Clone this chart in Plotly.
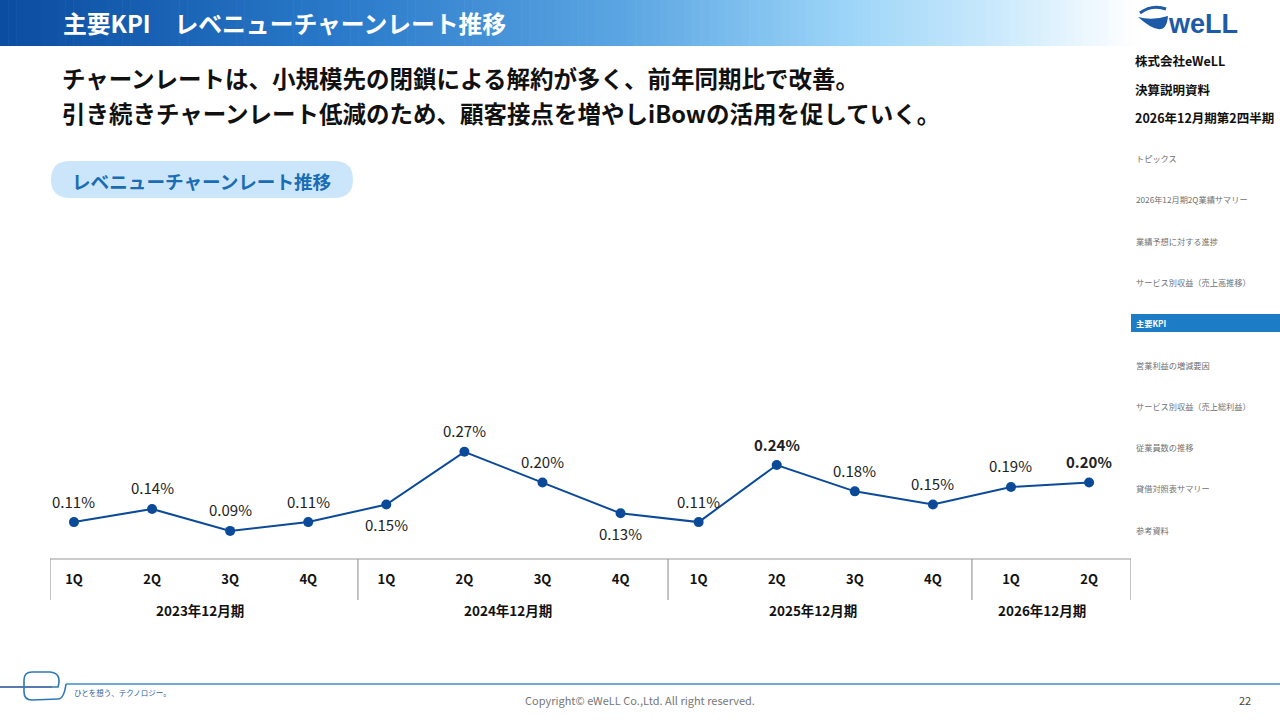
import plotly.graph_objects as go

# ---------------- data ----------------
quarters = ["1Q", "2Q", "3Q", "4Q", "1Q", "2Q", "3Q", "4Q", "1Q", "2Q", "3Q", "4Q", "1Q", "2Q"]
churn_rate = [0.11, 0.14, 0.09, 0.11, 0.15, 0.27, 0.20, 0.13, 0.11, 0.24, 0.18, 0.15, 0.19, 0.20]
label_below = [False, False, False, False, True, False, False, True, False, False, False, False, False, False]
label_bold = [False, False, False, False, False, False, False, False, False, True, False, False, False, True]
fiscal_years = ["2023年12月期", "2024年12月期", "2025年12月期", "2026年12月期"]
fiscal_year_centers = [1.61, 5.56, 9.47, 12.40]
fiscal_dividers = [-0.307, 3.637, 7.608, 11.50, 13.537]

title_text = "主要KPI　レベニューチャーンレート推移"
lead_lines = [
    "チャーンレートは、小規模先の閉鎖による解約が多く、前年同期比で改善。",
    "引き続きチャーンレート低減のため、顧客接点を増やしiBowの活用を促していく。",
]
pill_text = "レベニューチャーンレート推移"
side_header = ["株式会社eWeLL", "決算説明資料", "2026年12月期第2四半期"]
side_menu = ["トピックス", "2026年12月期2Q業績サマリー", "業績予想に対する進捗", "サービス別収益（売上高推移）",
             "主要KPI", "営業利益の増減要因", "サービス別収益（売上総利益）", "従業員数の推移",
             "貸借対照表サマリー", "参考資料"]
active_menu = "主要KPI"

W, H = 1280, 720
FONT = "Noto Sans CJK JP"
LINE_BLUE = "#0b4a99"


def px(x):
    return x / W


def py(y):
    return 1 - y / H


def path(cmds):
    out = []
    for c in cmds:
        s = c[0]
        for (x, y) in c[1:]:
            s += " %.5f %.5f" % (px(x), py(y))
        out.append(s)
    return " ".join(out)


fig = go.Figure()

fig.add_trace(go.Scatter(
    x=list(range(len(churn_rate))), y=churn_rate,
    mode="lines+markers",
    line=dict(color=LINE_BLUE, width=2),
    marker=dict(color=LINE_BLUE, size=10),
    hoverinfo="skip", showlegend=False,
))

shapes = []
annotations = []

# ---- header gradient banner ----
stops = [(0.0, (11, 76, 160)), (0.3, (42, 122, 202)), (0.55, (92, 166, 226)),
         (0.74, (155, 212, 248)), (0.88, (205, 234, 252)), (1.0, (255, 255, 255))]


def grad(t):
    for (t0, c0), (t1, c1) in zip(stops[:-1], stops[1:]):
        if t0 <= t <= t1:
            f = (t - t0) / (t1 - t0)
            return "rgb(%d,%d,%d)" % tuple(round(a + (b - a) * f) for a, b in zip(c0, c1))
    return "rgb(255,255,255)"


N = 140
BW = 1140
for i in range(N):
    x0 = BW * i / N
    x1 = BW * (i + 1) / N + 0.6
    shapes.append(dict(type="rect", xref="paper", yref="paper", x0=px(x0), x1=px(x1),
                       y0=py(46), y1=py(0), fillcolor=grad((i + 0.5) / N), line=dict(width=0), layer="below"))

annotations.append(dict(x=px(61), y=py(22), xref="paper", yref="paper", xanchor="left", yanchor="middle",
                        text="<b>%s</b>" % title_text, showarrow=False,
                        font=dict(family=FONT, size=23.8, color="white")))

# ---- lead text ----
for i, t in enumerate(lead_lines):
    annotations.append(dict(x=px(60), y=py(78 + 35 * i), xref="paper", yref="paper", xanchor="left",
                            yanchor="middle", text="<b>%s</b>" % t, showarrow=False,
                            font=dict(family=FONT, size=23.5, color="#111111")))

# ---- pill ----
shapes.append(dict(type="path", xref="paper", yref="paper",
                   path=path([("M", (70, 161)), ("L", (334, 161)), ("Q", (353, 161), (353, 179.5)),
                              ("Q", (353, 198), (334, 198)), ("L", (70, 198)), ("Q", (51, 198), (51, 179.5)),
                              ("Q", (51, 161), (70, 161)), ("Z",)]),
                   fillcolor="#cbe6fb", line=dict(width=0), layer="below"))
annotations.append(dict(x=px(202), y=py(180), xref="paper", yref="paper", xanchor="center", yanchor="middle",
                        text="<b>%s</b>" % pill_text, showarrow=False,
                        font=dict(family=FONT, size=18.6, color="#1b6db3")))

# ---- logo (approximation) ----
shapes.append(dict(type="path", xref="paper", yref="paper",
                   path=path([("M", (1138, 17)), ("Q", (1152, 21), (1168, 16)), ("Q", (1166, 42), (1138, 17)), ("Z",)]),
                   fillcolor="#1d5aa8", line=dict(width=0)))
shapes.append(dict(type="path", xref="paper", yref="paper",
                   path=path([("M", (1140, 13)), ("Q", (1152, 4), (1166, 9))]),
                   line=dict(color="#1d5aa8", width=3)))
annotations.append(dict(x=px(1166), y=py(24), xref="paper", yref="paper", xanchor="left", yanchor="middle",
                        text="<b>weLL</b>", showarrow=False,
                        font=dict(family="Liberation Sans", size=27, color="#1d5aa8")))

# ---- sidebar ----
for i, t in enumerate(side_header):
    annotations.append(dict(x=px(1133), y=py(60 + 29 * i), xref="paper", yref="paper", xanchor="left",
                            yanchor="middle", text="<b>%s</b>" % t, showarrow=False,
                            font=dict(family=FONT, size=12.5, color="#111111")))
for i, t in enumerate(side_menu):
    yy = 158 + 41.3 * i
    if t == active_menu:
        shapes.append(dict(type="rect", xref="paper", yref="paper", x0=px(1131), x1=px(1280),
                           y0=py(332), y1=py(314), fillcolor="#1d7cc6", line=dict(width=0)))
        annotations.append(dict(x=px(1134), y=py(yy), xref="paper", yref="paper", xanchor="left",
                                yanchor="middle", text="<b>%s</b>" % t, showarrow=False,
                                font=dict(family=FONT, size=8.2, color="white")))
    else:
        annotations.append(dict(x=px(1134), y=py(yy), xref="paper", yref="paper", xanchor="left",
                                yanchor="middle", text=t, showarrow=False,
                                font=dict(family=FONT, size=8.2, color="#707070")))

# ---- footer ----
shapes.append(dict(type="line", xref="paper", yref="paper", x0=px(66), x1=px(1280), y0=py(684), y1=py(684),
                   line=dict(color="#3b8fcb", width=1.6)))
shapes.append(dict(type="line", xref="paper", yref="paper", x0=px(0), x1=px(52), y0=py(687), y1=py(687),
                   line=dict(color="#1d4f96", width=1.6)))
shapes.append(dict(type="path", xref="paper", yref="paper",
                   path=path([("M", (52, 687)), ("L", (58, 687)), ("Q", (62, 673), (50, 672)), ("L", (32, 672)),
                              ("Q", (24, 672), (24, 680)), ("L", (24, 692)), ("Q", (24, 700), (32, 700)),
                              ("L", (58, 699)), ("Q", (64, 699), (66, 684))]),
                   line=dict(color="#2f78b8", width=1.6)))
annotations.append(dict(x=px(72), y=py(692), xref="paper", yref="paper", xanchor="left", yanchor="middle",
                        text="ひとを想う、テクノロジー。", showarrow=False,
                        font=dict(family=FONT, size=7.5, color="#2a5f9e")))
annotations.append(dict(x=px(640), y=py(700), xref="paper", yref="paper", xanchor="center", yanchor="middle",
                        text="Copyright© eWeLL Co.,Ltd. All right reserved.", showarrow=False,
                        font=dict(family=FONT, size=11, color="#777777")))
annotations.append(dict(x=px(1245), y=py(700), xref="paper", yref="paper", xanchor="center", yanchor="middle",
                        text="22", showarrow=False, font=dict(family=FONT, size=11, color="#444444")))

# ---- data labels ----
for i, v in enumerate(churn_rate):
    t = "%.2f%%" % v
    if label_bold[i]:
        t = "<b>%s</b>" % t
    annotations.append(dict(x=i, y=v, xref="x", yref="y", text=t, showarrow=False,
                            yshift=-20 if label_below[i] else 21, xanchor="center", yanchor="middle",
                            font=dict(family=FONT, size=15, color="#222222")))

# ---- table lines ----
shapes.append(dict(type="line", xref="x", yref="paper", x0=fiscal_dividers[0], x1=fiscal_dividers[-1],
                   y0=py(559), y1=py(559), line=dict(color="#9a9a9a", width=1.2)))
for d in fiscal_dividers:
    shapes.append(dict(type="line", xref="x", yref="paper", x0=d, x1=d, y0=py(559), y1=py(600),
                       line=dict(color="#9a9a9a", width=1.2)))
for name, c in zip(fiscal_years, fiscal_year_centers):
    annotations.append(dict(x=c, y=py(610), xref="x", yref="paper", text="<b>%s</b>" % name, showarrow=False,
                            xanchor="center", yanchor="middle",
                            font=dict(family=FONT, size=13.5, color="#111111")))

fig.update_layout(
    width=W, height=H,
    margin=dict(l=0, r=0, t=0, b=0),
    paper_bgcolor="white", plot_bgcolor="rgba(0,0,0,0)",
    shapes=shapes, annotations=annotations,
    font=dict(family=FONT),
    xaxis=dict(domain=[px(50), px(1131)], range=[fiscal_dividers[0], fiscal_dividers[-1]],
               tickvals=list(range(len(quarters))), ticktext=["<b>%s</b>" % q for q in quarters],
               ticks="", showgrid=False, zeroline=False, showline=False, ticklabelstandoff=11,
               tickfont=dict(family=FONT, size=13, color="#111111"), fixedrange=True),
    yaxis=dict(domain=[py(559), py(400)], range=[0.026, 0.388], visible=False, fixedrange=True),
)

fig.write_html("out.html", config={"displayModeBar": False},
               post_script="document.body.style.margin='0';document.body.style.padding='0';")
